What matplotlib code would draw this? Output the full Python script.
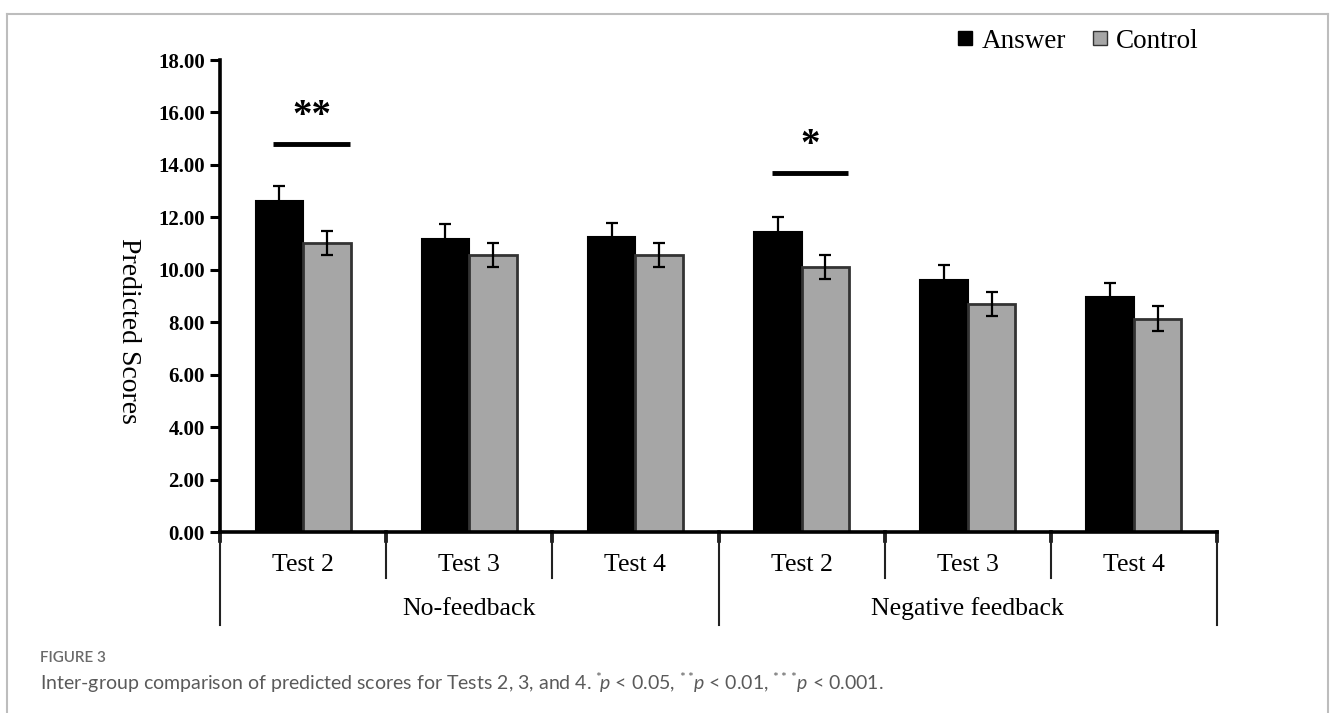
import matplotlib.pyplot as plt
from matplotlib.lines import Line2D
import numpy as np

plt.rcParams['font.family'] = 'Liberation Serif'
plt.rcParams['mathtext.fontset'] = 'custom'
plt.rcParams['mathtext.rm'] = 'Lato'
plt.rcParams['mathtext.it'] = 'Lato:italic'

tests = ["Test 2", "Test 3", "Test 4", "Test 2", "Test 3", "Test 4"]
conditions = ["No-feedback", "Negative feedback"]
answer = [12.64, 11.17, 11.24, 11.44, 9.60, 8.96]
answer_err = [0.56, 0.58, 0.56, 0.57, 0.57, 0.55]
control = [11.01, 10.56, 10.56, 10.11, 8.68, 8.13]
control_err = [0.45, 0.45, 0.45, 0.47, 0.46, 0.47]
# (category index, stars, bracket height)
sig = [(0, "**", 14.8), (3, "*", 13.7)]

W, H = 1332, 713
fig = plt.figure(figsize=(W / 100, H / 100), dpi=100)
ax = fig.add_axes([220 / W, 1 - 532 / H, 997 / W, 472 / H])

x = np.arange(len(tests))
bw = 0.286
ax.bar(x - bw / 2, answer, bw, color='black', edgecolor='black', linewidth=1.5, zorder=2)
ax.bar(x + bw / 2, control, bw, color='#a6a6a6', edgecolor='#333333', linewidth=2, zorder=2)
ax.errorbar(x - bw / 2, answer, yerr=answer_err, fmt='none', ecolor='black',
            elinewidth=1.6, capsize=4, capthick=1.6, zorder=3)
ax.errorbar(x + bw / 2, control, yerr=control_err, fmt='none', ecolor='black',
            elinewidth=1.6, capsize=4, capthick=1.6, zorder=3)

for i, stars, h in sig:
    ax.plot([i - 0.18, i + 0.28], [h, h], color='black', lw=3.5, solid_capstyle='butt')
    ax.text(i + 0.05, h + 0.35, stars, ha='center', va='bottom', fontsize=28,
            fontweight='bold')

ax.set_xlim(-0.5, len(tests) - 0.5)
ax.set_ylim(0, 18)
ax.set_yticks(np.arange(0, 18.1, 2))
ax.set_yticklabels([f"{v:.2f}" for v in np.arange(0, 18.1, 2)], fontsize=15, fontweight='bold')
ax.tick_params(axis='y', direction='out', length=7, width=2.2, pad=4)
ax.set_xticks([])
for s in ['top', 'right']:
    ax.spines[s].set_visible(False)
ax.spines['left'].set_linewidth(2.6)
ax.spines['bottom'].set_linewidth(2.6)

# category separators and two-level labels below the axis
tr = ax.get_xaxis_transform()
edges = np.arange(len(tests) + 1) - 0.5
for k, e in enumerate(edges):
    long_line = k % 3 == 0
    ax.plot([e, e], [0, -0.02], color='black', lw=2.6, transform=tr, clip_on=False)
    ax.plot([e, e], [0, -0.197 if long_line else -0.0975], color='#222222', lw=1.5,
            transform=tr, clip_on=False)
for i, t in enumerate(tests):
    ax.text(i, -0.07, t, ha='center', va='center', fontsize=18.5, transform=tr)
for g, c in enumerate(conditions):
    ax.text(3 * g + 1, -0.163, c, ha='center', va='center', fontsize=18.5, transform=tr)

fig.text(128 / W, 1 - 331 / H, "Predicted Scores", rotation=270, ha='center', va='center',
         fontsize=20)

handles = [Line2D([], [], marker='s', linestyle='', markersize=10, markerfacecolor='black',
                  markeredgecolor='black'),
           Line2D([], [], marker='s', linestyle='', markersize=10, markerfacecolor='#a6a6a6',
                  markeredgecolor='#333333')]
fig.legend(handles, ["Answer", "Control"], loc='center left',
           bbox_to_anchor=(942 / W, 1 - 41 / H), ncol=2, frameon=False, fontsize=19.5,
           handlelength=0.7, handletextpad=0.25, columnspacing=0.9, borderpad=0)

# outer frame
frame = dict(color='#bdbdbd', lw=1.5, transform=fig.transFigure)
fig.add_artist(Line2D([6.5 / W, 1328 / W], [1 - 14 / H, 1 - 14 / H], **frame))
fig.add_artist(Line2D([6.5 / W, 6.5 / W], [0, 1 - 14 / H], **frame))
fig.add_artist(Line2D([1328 / W, 1328 / W], [0, 1 - 14 / H], **frame))

fig.text(40 / W, 1 - 658 / H, "FIGURE 3", fontsize=11, color='#6a6a6a', family='Lato',
         fontweight='semibold', va='center')
fig.text(40 / W, 1 - 683 / H,
         "Inter-group comparison of predicted scores for Tests 2, 3, and 4. "
         r"$^{*}\!p$ < 0.05, $^{**}\!p$ < 0.01, $^{***}\!p$ < 0.001.",
         fontsize=14, color='#5a5a5a', family='Lato', va='center')

fig.savefig("out.png", dpi=100)
